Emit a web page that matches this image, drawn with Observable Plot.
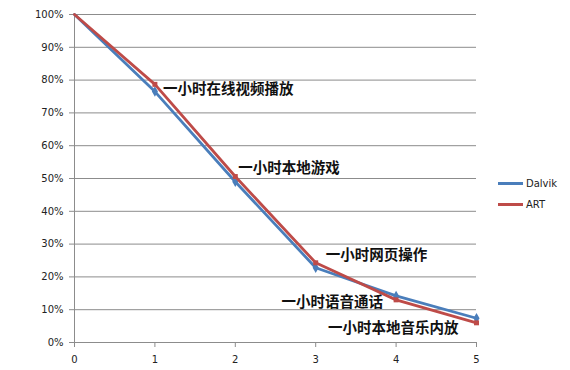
<!DOCTYPE html>
<html>
<head>
<meta charset="utf-8">
<script src="https://cdn.jsdelivr.net/npm/d3@7"></script>
<script src="https://cdn.jsdelivr.net/npm/@observablehq/plot@0.6"></script>
<style>
  html, body { margin: 0; padding: 0; background: #fff; }
  #wrap { position: relative; width: 570px; height: 370px; }
  #legend { position: absolute; left: 498px; top: 173px; font: 10px "DejaVu Sans", sans-serif; color: #222; }
  .item { display: flex; align-items: center; height: 21px; }
  .swatch { width: 25px; height: 2.5px; margin-right: 3px; }
</style>
</head>
<body>
<div id="wrap"><div id="legend"></div></div>
<script>
// ---- data ----
const hours = [0, 1, 2, 3, 4, 5];
const dalvik = [100, 76.5, 49.0, 22.8, 14.2, 7.4];
const art = [100, 78.7, 50.6, 24.3, 13.0, 6.0];
const seriesNames = ["Dalvik", "ART"];
const seriesColors = ["#4a7ebb", "#be4b48"];
const yTicks = [0, 10, 20, 30, 40, 50, 60, 70, 80, 90, 100];
const xTicks = [0, 1, 2, 3, 4, 5];
const labelTexts = ["一小时在线视频播放", "一小时本地游戏", "一小时网页操作", "一小时语音通话", "一小时本地音乐内放"];
const labelHours = [1, 2, 3, 4, 5];

// ---- build ----
const rows = [];
hours.forEach((h, i) => {
  rows.push({series: "Dalvik", x: h, y: dalvik[i]});
  rows.push({series: "ART", x: h, y: art[i]});
});
const labels = labelTexts.map((t, i) => ({text: t, x: labelHours[i], y: art[hours.indexOf(labelHours[i])]}));
const labelStyle = [
  {anchor: "start", dx: 8, dy: 5},
  {anchor: "start", dx: 3, dy: -8},
  {anchor: "start", dx: 10, dy: -7},
  {anchor: "end", dx: -13, dy: 2},
  {anchor: "end", dx: -18, dy: 6}
];
const gray = "#8c8c8c";
const dRows = rows.filter(d => d.series === "Dalvik");
const aRows = rows.filter(d => d.series === "ART");

const plot = Plot.plot({
  width: 570,
  height: 370,
  marginLeft: 74,
  marginRight: 94,
  marginTop: 14,
  marginBottom: 28,
  style: {fontFamily: "'DejaVu Sans', sans-serif", fontSize: "10px", color: "#222", background: "#fff"},
  x: {domain: [0, 5], label: null},
  y: {domain: [0, 100], label: null},
  marks: [
    Plot.ruleY(yTicks.filter(d => d > 0), {stroke: gray, strokeWidth: 1}),
    Plot.axisY({ticks: yTicks, tickFormat: d => d + "%", tickSize: 5, tickPadding: 6, stroke: gray, label: null}),
    Plot.axisX({ticks: xTicks, tickFormat: d => String(d), tickSize: 5, tickPadding: 8, stroke: gray, label: null}),
    Plot.ruleX([0], {stroke: gray}),
    Plot.ruleY([0], {stroke: gray}),
    Plot.line(dRows, {x: "x", y: "y", stroke: seriesColors[0], strokeWidth: 2.8}),
    Plot.dot(dRows.filter(d => d.x > 0), {x: "x", y: "y", fill: seriesColors[0], symbol: "diamond", r: 3.2}),
    Plot.line(aRows, {x: "x", y: "y", stroke: seriesColors[1], strokeWidth: 2.8}),
    Plot.dot(aRows.filter(d => d.x > 0), {x: "x", y: "y", fill: seriesColors[1], symbol: "square", r: 2.8}),
    ...labels.map((l, i) => Plot.text([l], {
      x: "x", y: "y", text: "text",
      textAnchor: labelStyle[i].anchor, dx: labelStyle[i].dx, dy: labelStyle[i].dy,
      fontFamily: "'Noto Sans CJK SC', sans-serif", fontWeight: "bold", fontSize: 14.5, fill: "#111"
    }))
  ]
});
document.getElementById("wrap").prepend(plot);

const legend = document.getElementById("legend");
seriesNames.forEach((n, i) => {
  const it = document.createElement("div");
  it.className = "item";
  const sw = document.createElement("div");
  sw.className = "swatch";
  sw.style.background = seriesColors[i];
  const tx = document.createElement("span");
  tx.textContent = n;
  it.appendChild(sw); it.appendChild(tx);
  legend.appendChild(it);
});
</script>
</body>
</html>
